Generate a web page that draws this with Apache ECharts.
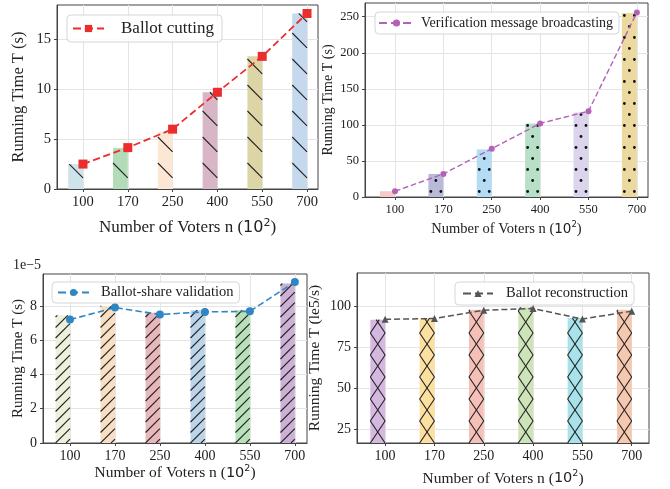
<!DOCTYPE html>
<html>
<head>
<meta charset="utf-8">
<script src="https://cdn.jsdelivr.net/npm/echarts@6/dist/echarts.min.js"></script>
<style>
html, body { margin: 0; padding: 0; background: #fff; }
#main { width: 670px; height: 489px; }
</style>
</head>
<body>
<div id="main"></div>
<script>
var voters = ['100', '170', '250', '400', '550', '700']; // x categories (10^2 voters)

// top-left: ballot cutting (s)
var cutBar = [2.5, 4.1, 5.7, 9.7, 13.3, 17.6];
var cutLine = [2.5, 4.15, 6.0, 9.7, 13.3, 17.6];
var cutTicks = [0, 5, 10, 15];

// top-right: verification message broadcasting (s)
var verBar = [8, 32, 66, 102, 117, 255];
var verLine = [8, 32, 67, 102, 119, 256];
var verTicks = [0, 50, 100, 150, 200, 250];

// bottom-left: ballot-share validation (s, x 1e-5)
var valBar = [7.45, 8.0, 7.6, 7.75, 7.75, 9.3];
var valLine = [7.2, 7.9, 7.5, 7.65, 7.68, 9.4];
var valTicks = [0, 2, 4, 6, 8];

// bottom-right: ballot reconstruction (1e5/s)
var recBar = [92, 93, 98, 99.5, 93, 98];
var recLine = [92.2, 92.7, 97.8, 98.8, 92.4, 97.2];
var recTicks = [25, 50, 75, 100];

var serif = 'Liberation Serif';
var frame = '#444';
var idx = voters.map(function (_, i) { return i; });

var chart = echarts.init(document.getElementById('main'));

// hatch helpers: line families inside a bar rect
var ink = { stroke: '#222', lineWidth: 1.1 };
function hatchLines(x0, x1, yt, yb, k, d) {
  var out = [], w = x1 - x0, span = Math.abs(k) * w;
  var jMin = Math.floor(-span / d) - 1, jMax = Math.ceil((yb - yt + span) / d) + 1;
  for (var j = jMin; j <= jMax; j++) {
    var a = yb - j * d;
    var tA = (yt - a) / k + x0, tB = (yb - a) / k + x0;
    var lo = Math.max(x0, Math.min(tA, tB)), hi = Math.min(x1, Math.max(tA, tB));
    if (hi - lo < 0.5) continue;
    out.push({ type: 'line', shape: { x1: lo, y1: a + k * (lo - x0), x2: hi, y2: a + k * (hi - x0) }, style: ink });
  }
  return out;
}
function hatchDots(x0, x1, yt, yb) {
  var out = [];
  for (var r = 0; ; r++) {
    var y = yb - 5.5 - r * 11;
    if (y < yt + 1.5) break;
    for (var x = x0 + 2.5 + (r % 2) * 5; x < x1 - 1; x += 10) {
      out.push({ type: 'circle', shape: { cx: x, cy: y, r: 1.4 }, style: { fill: '#111' } });
    }
  }
  return out;
}
var hatches = {
  back: function (x0, x1, yt, yb) { return hatchLines(x0, x1, yt, yb, 1, 26); },
  fwd: function (x0, x1, yt, yb) { return hatchLines(x0, x1, yt, yb, -1, 10.5); },
  dots: hatchDots,
  cross: function (x0, x1, yt, yb) {
    var d = 22, k = d / (x1 - x0);
    return hatchLines(x0, x1, yt, yb, k, d).concat(hatchLines(x0, x1, yt, yb, -k, d));
  }
};

function barSeries(gi, vals, colors, w, hatch) {
  return {
    type: 'custom', xAxisIndex: gi, yAxisIndex: gi, clip: true, z: 2,
    data: vals.map(function (v, i) { return [i, v]; }),
    renderItem: function (params, api) {
      var i = api.value(0), v = api.value(1);
      var cs = params.coordSys;
      var pL = api.coord([i - w, v]), pR = api.coord([i, v]);
      var x0 = pL[0], x1 = pR[0], yt = pL[1];
      var yb = Math.min(api.coord([i, 0])[1], cs.y + cs.height);
      var kids = [{ type: 'rect', shape: { x: x0, y: yt, width: x1 - x0, height: yb - yt },
        style: { fill: colors[params.dataIndex] } }];
      return { type: 'group', children: kids.concat(hatches[hatch](x0, x1, yt, yb)) };
    }
  };
}

function lineSeries(gi, name, vals, color, symbol, size, width) {
  return {
    type: 'line', name: name, xAxisIndex: gi, yAxisIndex: gi, z: 5,
    data: vals.map(function (v, i) { return [i, v]; }),
    symbol: symbol, symbolSize: size, showSymbol: true,
    lineStyle: { color: color, type: 'dashed', width: width },
    itemStyle: { color: color }
  };
}

function xAxisFor(gi, min, max, fs, tfs, gap) {
  return {
    type: 'value', gridIndex: gi, min: min, max: max,
    name: '{a|Number of Voters n (}{b|10}{c|2}{a|)}', nameLocation: 'middle', nameGap: gap,
    nameTextStyle: { rich: {
      a: { fontFamily: serif, fontSize: tfs, color: '#222' },
      b: { fontFamily: 'DejaVu Sans', fontSize: tfs - 1, color: '#222' },
      c: { fontFamily: 'DejaVu Sans', fontSize: tfs - 6, color: '#222', padding: [0, 0, 9, 0] }
    } },
    axisLine: { show: true, onZero: false, lineStyle: { color: frame } },
    axisTick: { show: true, customValues: idx, length: 3, lineStyle: { color: frame } },
    axisLabel: { customValues: idx, formatter: function (v) { return voters[Math.round(v)]; },
      fontFamily: serif, fontSize: fs, color: '#222', margin: 6 },
    splitLine: { show: true, lineStyle: { color: '#e4e4e4' } }
  };
}

function yAxisFor(gi, min, max, ticks, name, fs, tfs, gap) {
  return {
    type: 'value', gridIndex: gi, min: min, max: max,
    name: name, nameLocation: 'middle', nameGap: gap,
    nameTextStyle: { fontFamily: serif, fontSize: tfs, color: '#222' },
    axisLine: { show: true, onZero: false, lineStyle: { color: frame } },
    axisTick: { show: true, customValues: ticks, length: 3, lineStyle: { color: frame } },
    axisLabel: { customValues: ticks, fontFamily: serif, fontSize: fs, color: '#222', margin: 6 },
    splitLine: { show: true, lineStyle: { color: '#e4e4e4' } }
  };
}

function legendFor(name, left, top, fs, iw, pad, tpad) {
  return {
    data: [name], left: left, top: top, orient: 'horizontal',
    padding: pad, itemWidth: iw, itemHeight: 9, selectedMode: false,
    backgroundColor: 'rgba(255,255,255,0.85)', borderColor: '#d6d6d6', borderWidth: 1, borderRadius: 4,
    textStyle: { fontFamily: serif, fontSize: fs, color: '#222', padding: [0, 0, 0, tpad] }
  };
}

var gridStyle = { show: true, borderColor: frame, borderWidth: 1, backgroundColor: '#fff' };

var option = {
  animation: false,
  backgroundColor: '#fff',
  grid: [
    Object.assign({ left: 57, top: 5, width: 261, height: 184 }, gridStyle),
    Object.assign({ left: 365, top: 3, width: 283, height: 194 }, gridStyle),
    Object.assign({ left: 43, top: 274, width: 264, height: 169 }, gridStyle),
    Object.assign({ left: 357, top: 273, width: 292, height: 170 }, gridStyle)
  ],
  xAxis: [
    xAxisFor(0, -0.58, 5.245, 14.5, 17, 29),
    xAxisFor(1, -0.62, 5.23, 12.5, 14.5, 23),
    xAxisFor(2, -0.6, 5.27, 14, 15.5, 17),
    xAxisFor(3, -0.57, 5.35, 14, 15.5, 26)
  ],
  yAxis: [
    yAxisFor(0, 0, 18.45, cutTicks, 'Running Time T (s)', 14.5, 16.5, 30),
    yAxisFor(1, 0, 269, verTicks, 'Running Time T (s)', 12.5, 14, 30),
    yAxisFor(2, 0, 9.86, valTicks, 'Running Time T (s)', 14, 15, 17),
    yAxisFor(3, 16.4, 120.6, recTicks, 'Running Time T (le5/s)', 14, 15.5, 34)
  ],
  legend: [
    legendFor('Ballot cutting', 67, 15, 17, 31, [5, 8, 5, 5], 12),
    legendFor('Verification message broadcasting', 375, 12, 14, 35, [4, 6, 4, 3], 2),
    legendFor('Ballot-share validation', 52, 282, 14.5, 31, [3, 6, 3, 5], 7),
    legendFor('Ballot reconstruction', 455, 282, 14.5, 30, [4, 6, 4, 7], 8)
  ],
  graphic: [
    { type: 'text', left: 13, top: 258, style: { text: '1e\u22125', fontFamily: serif, fontSize: 14, fill: '#222' } }
  ],
  series: [
    barSeries(0, cutBar, ['#cfe3ea', '#b2dbb7', '#fce7d4', '#d8b6c6', '#dcd5a5', '#c4d8ee'], 0.33, 'back'),
    lineSeries(0, 'Ballot cutting', cutLine, '#ec2d2d', 'rect', 9, 1.8),
    barSeries(1, verBar, ['#f7c9c9', '#b9bad8', '#b5dcf5', '#b8e0c8', '#dcd3ec', '#ecd9a0'], 0.31, 'dots'),
    lineSeries(1, 'Verification message broadcasting', verLine, '#b462b8', 'circle', 6, 1.4),
    barSeries(2, valBar, ['#eef0dc', '#f8dfc4', '#e8b7bb', '#bcd4ea', '#b8e0b9', '#cdb0d6'], 0.32, 'fwd'),
    lineSeries(2, 'Ballot-share validation', valLine, '#2f86c2', 'circle', 8, 1.6),
    barSeries(3, recBar, ['#d4b8e0', '#fce0a0', '#f5c0b8', '#cde3b8', '#a8e3ec', '#f6c8b0'], 0.3, 'cross'),
    lineSeries(3, 'Ballot reconstruction', recLine, '#555555', 'triangle', 7, 1.5)
  ]
};

chart.setOption(option);
</script>
</body>
</html>
